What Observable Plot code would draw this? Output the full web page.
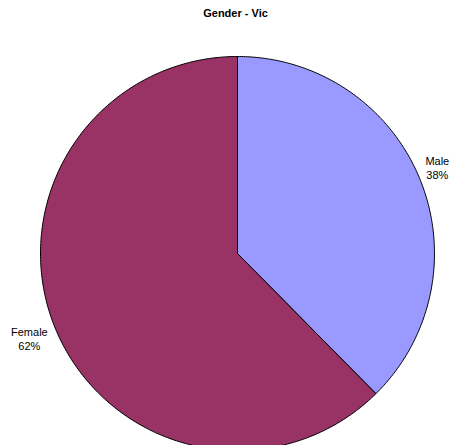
<!DOCTYPE html>
<html>
<head>
<meta charset="utf-8">
<script src="https://cdn.jsdelivr.net/npm/d3@7"></script>
<script src="https://cdn.jsdelivr.net/npm/@observablehq/plot@0.6"></script>
<style>
  html, body { margin: 0; padding: 0; background: #fff; }
  #chart svg { display: block; }
</style>
</head>
<body>
<div id="chart"></div>
<script>
const title = "Gender - Vic";
const categories = ["Male", "Female"];
const values = [37.6, 62.4];
const colors = ["#9999FF", "#993366"];

const W = 450, H = 445;
const cx = 237, cy = 253, R = 197;

const arcs = d3.pie().sort(null).value(d => d.value)(
  categories.map((c, i) => ({category: c, value: values[i]}))
);
const total = d3.sum(values);

// build slice outlines from pie angles
const pts = [];
arcs.forEach(a => {
  const c = a.data.category;
  pts.push({category: c, x: cx, y: cy});
  const n = 240;
  for (let k = 0; k <= n; k++) {
    const t = a.startAngle + (a.endAngle - a.startAngle) * k / n;
    pts.push({category: c, x: cx + R * Math.sin(t), y: cy - R * Math.cos(t)});
  }
  pts.push({category: c, x: cx, y: cy});
});

// labels placed just outside the slice at its mid-angle
const labels = arcs.map(a => {
  const m = (a.startAngle + a.endAngle) / 2;
  const right = Math.sin(m) > 0;
  const lr = right ? 216 : 225;
  return {
    label: `${a.data.category}\n${Math.round(a.data.value / total * 100)}%`,
    x: cx + lr * Math.sin(m),
    y: cy - lr * Math.cos(m) - (right ? 4 : 0)
  };
});

const chart = Plot.plot({
  width: W,
  height: H,
  margin: 0,
  style: {fontFamily: "'Liberation Sans', Arial, sans-serif", background: "#fff"},
  x: {domain: [0, W], range: [0, W], axis: null},
  y: {domain: [0, H], range: [0, H], axis: null},
  color: {domain: categories, range: colors},
  marks: [
    Plot.line(pts, {x: "x", y: "y", z: "category", fill: "category", stroke: "#000", strokeWidth: 1, curve: "linear"}),
    Plot.text(labels, {x: "x", y: "y", text: "label", fontSize: 11, lineHeight: 1.25, fill: "#000"}),
    Plot.text([title], {frameAnchor: "top", dy: 9, text: d => d, fontSize: 11, fontWeight: "bold", fill: "#000", dx: 10})
  ]
});
document.getElementById("chart").appendChild(chart);
</script>
</body>
</html>
